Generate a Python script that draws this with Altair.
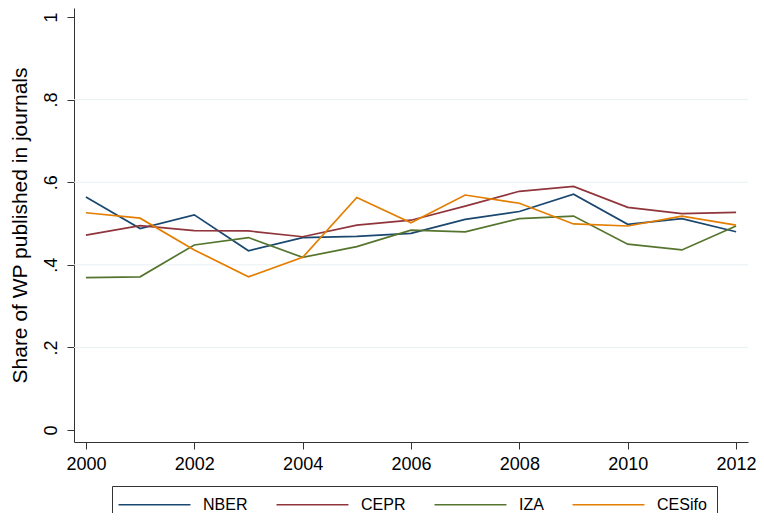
import altair as alt
import pandas as pd

years = list(range(2000, 2013))
nber = [0.564, 0.488, 0.521, 0.434, 0.466, 0.469, 0.476, 0.510, 0.529, 0.571, 0.498, 0.512, 0.480]
cepr = [0.472, 0.495, 0.483, 0.482, 0.468, 0.496, 0.508, 0.542, 0.578, 0.590, 0.539, 0.524, 0.527]
iza = [0.369, 0.371, 0.448, 0.466, 0.418, 0.444, 0.484, 0.480, 0.512, 0.518, 0.450, 0.436, 0.494]
cesifo = [0.526, 0.513, 0.436, 0.371, 0.418, 0.563, 0.502, 0.569, 0.549, 0.499, 0.494, 0.518, 0.496]

series_names = ["NBER", "CEPR", "IZA", "CESifo"]
series_colors = ["#1a476f", "#90353b", "#55752f", "#e37e00"]
grid_values = [0.2, 0.4, 0.6, 0.8]
y_ticks = [0, 0.2, 0.4, 0.6, 0.8, 1]
x_ticks = [2000, 2002, 2004, 2006, 2008, 2010, 2012]

rows = []
for name, vals in zip(series_names, [nber, cepr, iza, cesifo]):
    for yr, v in zip(years, vals):
        rows.append({"year": yr, "share": v, "series": name})
df = pd.DataFrame(rows)
grid_df = pd.DataFrame({"share": grid_values})

font = "Liberation Sans"
x_scale = alt.Scale(domain=[1999.78, 2012.22], nice=False, zero=False)
y_scale = alt.Scale(domain=[-0.029, 1.0218], nice=False, zero=False)

y_axis = alt.Axis(
    values=y_ticks,
    labelExpr="datum.value == 0 ? '0' : datum.value == 1 ? '1' : replace(format(datum.value, '.1f'), '0.', '.')",
    labelAngle=270, labelAlign="center", labelBaseline="bottom",
    labelFont=font, labelFontSize=18, labelColor="black", labelPadding=7,
    tickSize=7, tickColor="#333333", domainColor="#333333", grid=False,
    title="Share of WP published in journals", titleFont=font, titleFontSize=21,
    titleFontWeight="normal", titleColor="black", titlePadding=12,
)
x_axis = alt.Axis(
    values=x_ticks, format="d", labelFont=font, labelFontSize=18, labelColor="black",
    labelPadding=6, tickSize=7, tickColor="#333333", domainColor="#333333",
    grid=False, title=None, labelFlush=False,
)

y_enc = alt.Y("share:Q", scale=y_scale, axis=y_axis)

grid = alt.Chart(grid_df).mark_rule(color="#e8f0f2", strokeWidth=1).encode(y=y_enc)

lines = alt.Chart(df).mark_line(strokeWidth=1.7).encode(
    x=alt.X("year:Q", scale=x_scale, axis=x_axis),
    y=y_enc,
    color=alt.Color(
        "series:N",
        scale=alt.Scale(domain=series_names, range=series_colors),
        legend=alt.Legend(
            orient="none", legendX=38, legendY=478, direction="horizontal", title=None,
            symbolType="M-5,0H5", symbolSize=207, symbolStrokeWidth=1.7, symbolOffset=24,
            labelOffset=40, labelFont=font, labelFontSize=16, labelColor="black",
            columnPadding=25, padding=10, strokeColor="#333333", fillColor="white",
        ),
    ),
)

chart = alt.layer(grid, lines).properties(
    width=674, height=434, autosize="none",
    padding={"left": 66, "top": 0, "right": 8, "bottom": 71},
    background="white",
).configure_view(stroke=None)

chart.save("out.html", embed_options={"renderer": "svg", "actions": False})
